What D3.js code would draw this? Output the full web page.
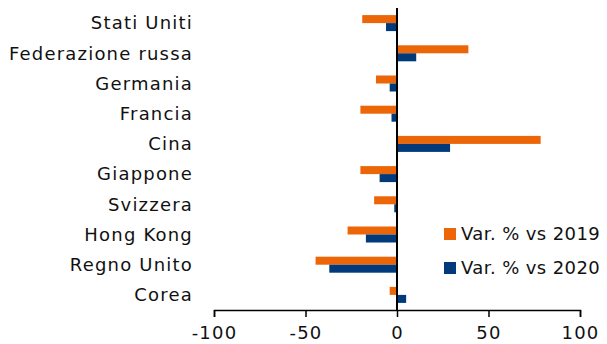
<!DOCTYPE html>
<html>
<head>
<meta charset="utf-8">
<script src="https://cdn.jsdelivr.net/npm/d3@7"></script>
<style>
  html, body { margin: 0; padding: 0; background: #fff; }
  svg text { font-family: "DejaVu Sans", sans-serif; fill: #111; }
</style>
</head>
<body>
<svg id="chart" width="607" height="344"></svg>
<script>
// Countries, top to bottom
const countries = ["Stati Uniti", "Federazione russa", "Germania", "Francia", "Cina",
                   "Giappone", "Svizzera", "Hong Kong", "Regno Unito", "Corea"];
// Percentage change vs 2019 and vs 2020
const varVs2019 = [-19, 39, -11.5, -20, 78.5, -20, -12.5, -27, -44.5, -4];
const varVs2020 = [-6, 10.5, -4, -3, 29, -9.5, -1.5, -17, -37, 5];
const seriesNames = ["Var. % vs 2019", "Var. % vs 2020"];
const seriesColors = ["#EC6608", "#003A7A"];
const xTicks = [-100, -50, 0, 50, 100];

const svg = d3.select("#chart");
const fontSize = 18;
const spacing = "1.2px";

const x = d3.scaleLinear().domain([-100, 100]).range([214, 580]);
const y = d3.scaleBand().domain(countries).range([8, 310]).paddingInner(0.47).paddingOuter(0.235);
const sub = d3.scaleBand().domain([0, 1]).range([0, y.bandwidth()]);

const series = [varVs2019, varVs2020];

// Bars
countries.forEach((c, i) => {
  series.forEach((vals, s) => {
    const v = vals[i];
    svg.append("rect")
      .attr("x", x(Math.min(0, v)))
      .attr("y", y(c) + sub(s))
      .attr("width", Math.abs(x(v) - x(0)))
      .attr("height", sub.bandwidth())
      .attr("fill", seriesColors[s]);
  });
});

// Zero line
svg.append("line")
  .attr("x1", x(0)).attr("x2", x(0))
  .attr("y1", 8).attr("y2", 310)
  .attr("stroke", "#000").attr("stroke-width", 2);

// Category labels
svg.selectAll("text.cat").data(countries).enter().append("text")
  .attr("class", "cat")
  .attr("x", 193)
  .attr("y", d => y(d) + y.bandwidth() / 2)
  .attr("dy", "0.35em")
  .attr("text-anchor", "end")
  .style("font-size", fontSize + "px")
  .style("letter-spacing", spacing)
  .text(d => d);

// X axis (plain hyphen for negatives)
const xAxis = d3.axisBottom(x).tickValues(xTicks).tickSize(7).tickPadding(9)
  .tickFormat(d => String(d));
const gx = svg.append("g").attr("transform", "translate(0,310)").call(xAxis);
gx.select(".domain").attr("stroke", "#000").attr("stroke-width", 1.5);
gx.selectAll(".tick line").attr("stroke", "#000").attr("stroke-width", 1.5);
gx.selectAll(".tick text")
  .style("font-family", "DejaVu Sans, sans-serif")
  .style("font-size", fontSize + "px")
  .style("letter-spacing", spacing)
  .attr("fill", "#111");

// Legend
const legend = svg.append("g");
seriesNames.forEach((name, s) => {
  const ly = 234 + s * 34;
  legend.append("rect")
    .attr("x", 444).attr("y", ly - 6)
    .attr("width", 12).attr("height", 12)
    .attr("fill", seriesColors[s]);
  legend.append("text")
    .attr("x", 461).attr("y", ly)
    .attr("dy", "0.35em")
    .style("font-size", fontSize + "px")
    .style("letter-spacing", "0.4px")
    .text(name);
});
</script>
</body>
</html>
